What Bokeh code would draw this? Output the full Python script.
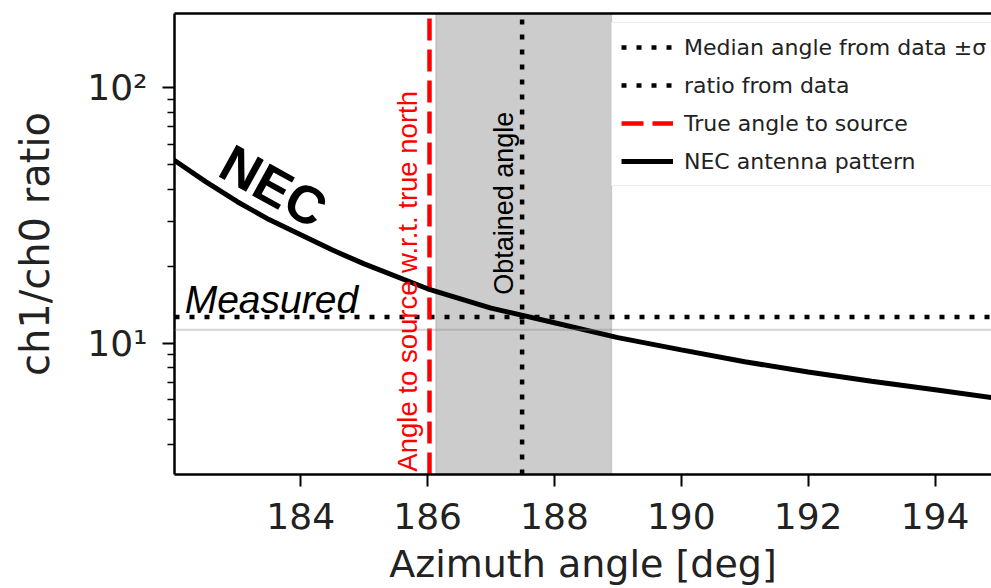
from bokeh.plotting import figure
from bokeh.models import (Range1d, FixedTicker, Span, BoxAnnotation, Label,
                          Legend, LegendItem, LinearAxis)
from bokeh.embed import file_html
from bokeh.resources import INLINE

# ---- data ----
azimuth_deg = [182, 182.5, 183, 183.5, 184, 184.5, 185, 186, 187, 188, 189, 190, 191, 192, 193, 194, 195]
nec_ratio = [52.0, 42.8, 35.7, 30.4, 26.5, 23.1, 20.4, 16.3, 13.7, 12.0, 10.5, 9.4, 8.45, 7.7, 7.09, 6.57, 6.06]

median_angle = 187.49
sigma_low = 186.13
sigma_high = 188.90
true_angle = 186.03
measured_ratio = 12.64
ratio_band_edge = 11.27

x_ticks = [184, 186, 188, 190, 192, 194]
y_major = [10, 100]
y_minor = [3, 4, 5, 6, 7, 8, 9, 20, 30, 40, 50, 60, 70, 80, 90]
y_tick_labels = {10: "10¹", 100: "10²"}

x_limits = (182.01, 194.89)
y_limits = (3.06, 194.5)

FONT = "DejaVu Sans"
ANN_FONT = "Liberation Sans"

p = figure(width=991, height=588, x_range=Range1d(*x_limits), y_range=Range1d(*y_limits),
           y_axis_type="log", output_backend="svg", toolbar_location=None,
           min_border_left=174, min_border_right=0, min_border_top=13, min_border_bottom=113)
p.outline_line_color = None
p.grid.visible = False
p.background_fill_color = "white"
p.border_fill_color = "white"

# axes
for ax in (p.xaxis[0], p.yaxis[0]):
    ax.axis_line_width = 2.5
    ax.axis_line_color = "black"
    ax.major_tick_out = 12
    ax.major_tick_in = 0
    ax.major_tick_line_width = 2
    ax.minor_tick_out = 7
    ax.minor_tick_in = 0
    ax.minor_tick_line_width = 1.5
    ax.major_label_text_font = FONT
    ax.major_label_text_font_size = "36px"
    ax.major_label_text_color = "#222222"
    ax.axis_label_text_font = FONT
    ax.axis_label_text_font_style = "normal"
    ax.axis_label_text_color = "#222222"

p.xaxis.ticker = FixedTicker(ticks=x_ticks, minor_ticks=[])
p.yaxis.ticker = FixedTicker(ticks=y_major, minor_ticks=y_minor)
p.yaxis.major_label_overrides = y_tick_labels
p.xaxis.axis_label = "Azimuth angle [deg]"
p.yaxis.axis_label = "ch1/ch0 ratio"
p.xaxis.axis_label_text_font_size = "38px"
p.yaxis.axis_label_text_font_size = "40px"
p.xaxis.major_label_standoff = 16
p.xaxis.axis_label_standoff = 10
p.yaxis.major_label_standoff = 15
p.yaxis.axis_label_standoff = 26

top_axis = LinearAxis(ticker=FixedTicker(ticks=[]), axis_line_width=2.5, axis_line_color="black",
                      major_tick_line_color=None, minor_tick_line_color=None,
                      major_label_text_font_size="0px")
p.add_layout(top_axis, "above")

# shaded +-sigma band
band = BoxAnnotation(left=sigma_low, right=sigma_high, fill_color="#808080", fill_alpha=0.4,
                     line_color="#808080", line_alpha=0.25, line_width=1.5, level="underlay")
p.add_layout(band)

# thin gray horizontal line
p.add_layout(Span(location=ratio_band_edge, dimension="width", line_color="#808080",
                  line_alpha=0.35, line_width=2))

DOT = "5 10"
# median angle (dotted vertical)
r_med = p.line([median_angle, median_angle], list(y_limits), line_color="black",
               line_width=4.5, line_dash=DOT)
# measured ratio (dotted horizontal)
r_rat = p.line(list(x_limits), [measured_ratio, measured_ratio], line_color="black",
               line_width=4.5, line_dash=DOT)
# true angle (red dashed)
r_true = p.line([true_angle, true_angle], list(y_limits), line_color="#ff0000",
                line_width=4.5, line_dash="22 9")

# NEC curve
nec = p.line(azimuth_deg, nec_ratio, line_color="black", line_width=5)

legend = Legend(items=[
    LegendItem(label="Median angle from data ±σ", renderers=[r_med]),
    LegendItem(label="ratio from data", renderers=[r_rat]),
    LegendItem(label="True angle to source", renderers=[r_true]),
    LegendItem(label="NEC antenna pattern", renderers=[nec]),
], location=(437, 288))
legend.label_text_font = FONT
legend.label_text_font_size = "22px"
legend.label_text_color = "#222222"
legend.glyph_width = 52
legend.glyph_height = 30
legend.label_height = 30
legend.spacing = 8
legend.padding = 9
legend.margin = 0
legend.label_standoff = 11
legend.border_line_color = "#d9d9d9"
legend.border_line_width = 1.5
legend.background_fill_color = "white"
legend.background_fill_alpha = 0.85
p.add_layout(legend)

# annotations
p.add_layout(Label(x=182.80, y=52.5, text="NEC", angle=-29, angle_units="deg",
                   text_font=ANN_FONT, text_font_size="53px", text_font_style="bold",
                   text_color="black", text_align="left", text_baseline="alphabetic"))
p.add_layout(Label(x=182.17, y=14.8, text="Measured", text_font=ANN_FONT,
                   text_font_size="39px", text_font_style="italic", text_color="black",
                   text_align="left", text_baseline="alphabetic"))
p.add_layout(Label(x=185.687, y=3.14, text="Angle to source w.r.t. true north", angle=90,
                   angle_units="deg", text_font=ANN_FONT, text_font_size="27.5px",
                   text_color="#ff0000", text_align="left", text_baseline="alphabetic"))
p.add_layout(Label(x=187.205, y=15.44, text="Obtained angle", angle=90, angle_units="deg",
                   text_font=ANN_FONT, text_font_size="27px", text_color="black",
                   text_align="left", text_baseline="alphabetic"))

open("out.html", "w").write(file_html(p, INLINE))
